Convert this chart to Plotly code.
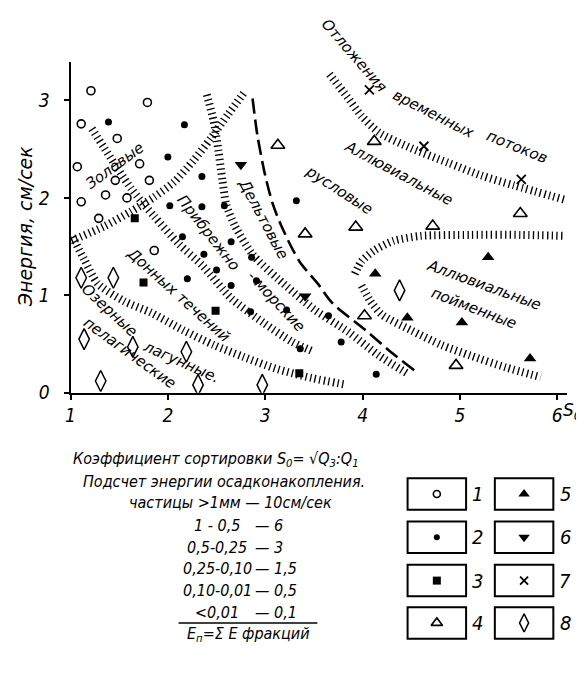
import plotly.graph_objects as go

W, H = 584, 681

# ---- data: sorting coefficient S0 vs. sedimentation energy (cm/s) ----
# 1 - open circles
c1_x = [1.21, 1.79, 1.11, 1.48, 1.07, 1.71, 1.46, 1.81, 1.11, 1.36, 1.58, 1.29, 1.86]
c1_y = [3.10, 2.98, 2.76, 2.61, 2.32, 2.35, 2.18, 2.18, 1.96, 2.03, 2.00, 1.79, 1.46]
# 2 - filled dots
c2_x = [1.39, 2.17, 2.00, 2.35, 2.02, 2.35, 2.58, 3.32, 2.15, 2.65, 2.37, 2.86,
        2.50, 2.20, 2.65, 2.91, 2.85, 3.22, 3.65, 3.36, 3.78, 4.14]
c2_y = [2.78, 2.75, 2.42, 2.22, 1.92, 1.91, 1.92, 1.97, 1.60, 1.55, 1.42, 1.39,
        1.26, 1.17, 1.10, 1.15, 0.83, 0.85, 0.79, 0.45, 0.52, 0.19]
# 3 - filled squares
c3_x = [1.66, 1.75, 2.49, 3.35]
c3_y = [1.79, 1.13, 0.84, 0.20]
# 4 - open triangles
c4_x = [3.13, 4.12, 5.62, 3.41, 3.93, 4.72, 4.02, 4.96]
c4_y = [2.54, 2.58, 1.84, 1.63, 1.70, 1.71, 0.79, 0.28]
# 5 - filled triangles
c5_x = [5.29, 4.13, 4.46, 5.02, 5.72]
c5_y = [1.39, 1.22, 0.77, 0.72, 0.35]
# 6 - filled triangles pointing down
c6_x = [2.75, 3.41]
c6_y = [2.34, 0.99]
# 7 - crosses
c7_x = [4.07, 4.63, 5.63]
c7_y = [3.11, 2.53, 2.19]
# 8 - open diamonds
c8_x = [1.11, 1.44, 1.14, 1.64, 2.19, 1.31, 2.31, 2.97, 4.38]
c8_y = [1.18, 1.18, 0.55, 0.47, 0.42, 0.12, 0.08, 0.08, 1.05]

# ---- hatched facies boundaries ----
b1_x = [1.22, 1.62, 1.86, 2.11, 2.36, 2.65, 2.98, 3.28, 3.50]
b1_y = [2.71, 2.10, 1.81, 1.53, 1.30, 0.97, 0.72, 0.52, 0.42]
b2_x = [1.01, 1.35, 1.62, 1.86, 2.06, 2.26, 2.44, 2.62, 2.79]
b2_y = [1.56, 1.71, 1.86, 2.01, 2.16, 2.38, 2.61, 2.86, 3.09]
b3_x = [2.40, 2.47, 2.52, 2.56, 2.60, 2.69, 2.87, 3.13, 3.51, 3.86, 4.17, 4.47]
b3_y = [3.06, 2.79, 2.48, 2.18, 1.93, 1.71, 1.42, 1.17, 0.85, 0.62, 0.38, 0.19]
b5_x = [1.02, 1.14, 1.28, 1.55, 1.83, 2.16, 2.47, 2.77, 3.13, 3.48, 3.84]
b5_y = [1.60, 1.37, 1.12, 0.94, 0.82, 0.64, 0.49, 0.37, 0.24, 0.15, 0.08]
b6_x = [3.66, 3.84, 3.99, 4.17, 4.50, 4.88, 5.22, 5.55, 6.08]
b6_y = [3.27, 3.04, 2.84, 2.67, 2.51, 2.36, 2.23, 2.13, 1.98]
b7_x = [3.92, 3.99, 4.12, 4.32, 4.60, 5.11, 5.62, 6.08]
b7_y = [1.22, 1.35, 1.46, 1.56, 1.61, 1.62, 1.62, 1.61]
b8_x = [3.99, 4.08, 4.20, 4.50, 4.81, 5.11, 5.47, 5.83]
b8_y = [1.10, 0.94, 0.80, 0.64, 0.49, 0.38, 0.26, 0.16]
# dashed delta boundary
dash_x = [2.87, 2.92, 3.00, 3.08, 3.18, 3.35, 3.54, 3.69, 4.02, 4.30, 4.53]
dash_y = [3.02, 2.64, 2.23, 1.93, 1.68, 1.35, 1.12, 0.92, 0.65, 0.41, 0.23]

# ---- zone labels: text, x, y, angle (in data units) ----
zone_text = ["Золовые", "Прибрежно", "- морские", "Дельтовые", "Донных течений",
             "Озерные", "лагунные.", "пелагические", "Отложения", "временных",
             "потоков", "Аллювиальные", "русловые", "Аллювиальные", "пойменные"]
zone_x = [1.45, 2.42, 3.11, 2.98, 2.11, 1.40, 2.14, 1.61, 3.92, 4.73, 5.59,
          4.37, 3.76, 5.25, 5.14]
zone_y = [2.33, 1.64, 0.94, 1.78, 1.00, 0.85, 0.31, 0.41, 3.46, 2.86, 2.52,
          2.26, 2.08, 1.11, 0.87]
zone_angle = [-36, 52, 47, 62, 42, 43, 24, 36, 49, 27, 22, 28, 33, 20, 21]

x_ticks = [1, 2, 3, 4, 5, 6]
y_ticks = [0, 1, 2, 3]

# energy table rows
size_cls = ["1 - 0,5", "0,5-0,25", "0,25-0,10", "0,10-0,01", "<0,01"]
energy = ["6", "3", "1,5", "0,5", "0,1"]
legend_nums = ["1", "2", "3", "4", "5", "6", "7", "8"]

# ---- geometry (page pixels; the graph div sits a few px in from the left) ----
OFF_X, OFF_Y = 8, 0
X0_PX, PX_PER_X = 66, 98.2
Y0_PX, PX_PER_Y = 391, 99
X_RANGE = [1, 6.1]
Y_RANGE = [0, 3.4]


def fx(p):
    return (p - OFF_X) / W


def fy(p):
    return 1 - (p - OFF_Y) / H


x_dom = [fx(X0_PX), fx(X0_PX + (X_RANGE[1] - 1) * PX_PER_X)]
y_dom = [fy(Y0_PX), fy(Y0_PX - Y_RANGE[1] * PX_PER_Y)]

FONT = "DejaVu Sans, sans-serif"
NARROW = "Liberation Sans Narrow, DejaVu Sans Condensed, sans-serif"


def px(x, y, xa="center"):
    return dict(x=fx(x), y=fy(y), xref="paper", yref="paper",
                xanchor=xa, yanchor="middle")


def data_to_paper(x, y):
    # zone labels may sit above the axis range, so place them in paper units
    xp = x_dom[0] + (x - X_RANGE[0]) / (X_RANGE[1] - X_RANGE[0]) * (x_dom[1] - x_dom[0])
    yp = y_dom[0] + (y - Y_RANGE[0]) / (Y_RANGE[1] - Y_RANGE[0]) * (y_dom[1] - y_dom[0])
    return xp, yp


fig = go.Figure()


def hatch(xs, ys):
    fig.add_trace(go.Scatter(
        x=xs, y=ys, mode="lines", hoverinfo="skip",
        line=dict(color="black", width=8, dash="1.3px,3.4px",
                  shape="spline", smoothing=0.7)))


for bx, by in [(b1_x, b1_y), (b2_x, b2_y), (b3_x, b3_y), (b5_x, b5_y),
               (b6_x, b6_y), (b7_x, b7_y), (b8_x, b8_y)]:
    hatch(bx, by)

fig.add_trace(go.Scatter(
    x=dash_x, y=dash_y, mode="lines", hoverinfo="skip",
    line=dict(color="black", width=2.6, dash="15px,6px",
              shape="spline", smoothing=0.8)))

# marker styles for the 8 groups
styles = [
    dict(symbol="circle-open", size=8, line=dict(width=1.6, color="black")),
    dict(symbol="circle", size=7),
    dict(symbol="square", size=8),
    dict(symbol="triangle-up-open", size=12, line=dict(width=1.6, color="black")),
    dict(symbol="triangle-up", size=11),
    dict(symbol="triangle-down", size=11),
    dict(symbol="x-thin", size=9, line=dict(width=1.8, color="black")),
    dict(symbol="diamond-tall-open", size=15, line=dict(width=1.5, color="black")),
]
groups = [(c1_x, c1_y), (c2_x, c2_y), (c3_x, c3_y), (c4_x, c4_y),
          (c5_x, c5_y), (c6_x, c6_y), (c7_x, c7_y), (c8_x, c8_y)]
for (gx, gy), st in zip(groups, styles):
    fig.add_trace(go.Scatter(x=gx, y=gy, mode="markers",
                             marker=dict(color="black", **st)))

# zone labels
zfont = dict(family=FONT, size=15, style="italic", color="black")
for t, zx, zy, a in zip(zone_text, zone_x, zone_y, zone_angle):
    xp, yp = data_to_paper(zx, zy)
    fig.add_annotation(x=xp, y=yp, xref="paper", yref="paper", text=t,
                       textangle=a, showarrow=False, xanchor="center",
                       yanchor="middle", font=zfont)

# axis labels
fig.add_annotation(text="Энергия, см/сек", textangle=-90, showarrow=False,
                   font=dict(family=FONT, size=19, style="italic", color="black"),
                   **px(21, 222))
fig.add_annotation(text="S<sub>0</sub>", showarrow=False,
                   font=dict(family=FONT, size=17, style="italic", color="black"),
                   **px(572, 410))

# ---- lower text block ----
txt = dict(family=NARROW, size=16, style="italic", color="black")
fig.add_annotation(text="Коэффициент сортировки S<sub>0</sub>= √Q<sub>3</sub>:Q<sub>1</sub>",
                   showarrow=False, font=txt, **px(67, 459, "left"))
fig.add_annotation(text="Подсчет энергии осадконакопления.",
                   showarrow=False, font=txt, **px(77, 481, "left"))
fig.add_annotation(text="частицы >1мм — 10см/сек",
                   showarrow=False, font=txt, **px(123, 503, "left"))
for i, (s, e) in enumerate(zip(size_cls, energy)):
    yy = 526 + i * 22
    fig.add_annotation(text=s, showarrow=False, font=txt, **px(214, yy))
    fig.add_annotation(text="— " + e, showarrow=False, font=txt,
                       **px(250, yy, "left"))
fig.add_shape(type="line", xref="paper", yref="paper",
              x0=fx(175), x1=fx(315), y0=fy(625), y1=fy(625),
              line=dict(color="black", width=1.5))
fig.add_annotation(text="E<sub>п</sub>=Σ E фракций", showarrow=False, font=txt,
                   **px(246, 637))

# ---- symbol legend boxes ----
BOX_W, BOX_H = 59, 32
box_left = [406, 494]
box_top = [478, 522, 566, 609]
leg_x, leg_y = [], []
for col in range(2):
    for row in range(4):
        x0, y0 = box_left[col], box_top[row]
        fig.add_shape(type="rect", xref="paper", yref="paper",
                      x0=fx(x0), x1=fx(x0 + BOX_W),
                      y0=fy(y0 + BOX_H), y1=fy(y0),
                      line=dict(color="black", width=2))
        leg_x.append(x0 + BOX_W / 2)
        leg_y.append(y0 + BOX_H / 2)
        n = legend_nums[col * 4 + row]
        fig.add_annotation(text=n, showarrow=False,
                           font=dict(family=NARROW, size=20, style="italic", color="black"),
                           **px(x0 + BOX_W + 12, y0 + BOX_H / 2))

leg_sizes = [7, 6, 8, 10, 10, 10, 8, 13]
for i, st in enumerate(styles):
    s = dict(st)
    s["size"] = leg_sizes[i]
    fig.add_trace(go.Scatter(x=[leg_x[i]], y=[leg_y[i]], mode="markers",
                             xaxis="x2", yaxis="y2",
                             marker=dict(color="black", **s)))

tickfont = dict(family=NARROW, size=19, style="italic", color="black")
fig.update_layout(
    width=W, height=H,
    margin=dict(l=0, r=0, t=0, b=0),
    paper_bgcolor="white", plot_bgcolor="rgba(0,0,0,0)",
    showlegend=False,
    xaxis=dict(domain=x_dom, range=X_RANGE, tickvals=x_ticks, showgrid=False,
               zeroline=False, showline=True, linecolor="black", linewidth=2,
               ticks="outside", ticklen=5, tickwidth=1.5, tickcolor="black",
               tickfont=tickfont, anchor="y"),
    yaxis=dict(domain=y_dom, range=Y_RANGE, tickvals=y_ticks, showgrid=False,
               zeroline=False, showline=True, linecolor="black", linewidth=2,
               ticks="outside", ticklen=5, tickwidth=1.5, tickcolor="black",
               tickfont=tickfont, ticklabelstandoff=10, anchor="x"),
    xaxis2=dict(domain=[0, 1], range=[OFF_X, W + OFF_X], visible=False, anchor="y2"),
    yaxis2=dict(domain=[0, 1], range=[H + OFF_Y, OFF_Y], visible=False, anchor="x2"),
)

fig.write_html("out.html")
